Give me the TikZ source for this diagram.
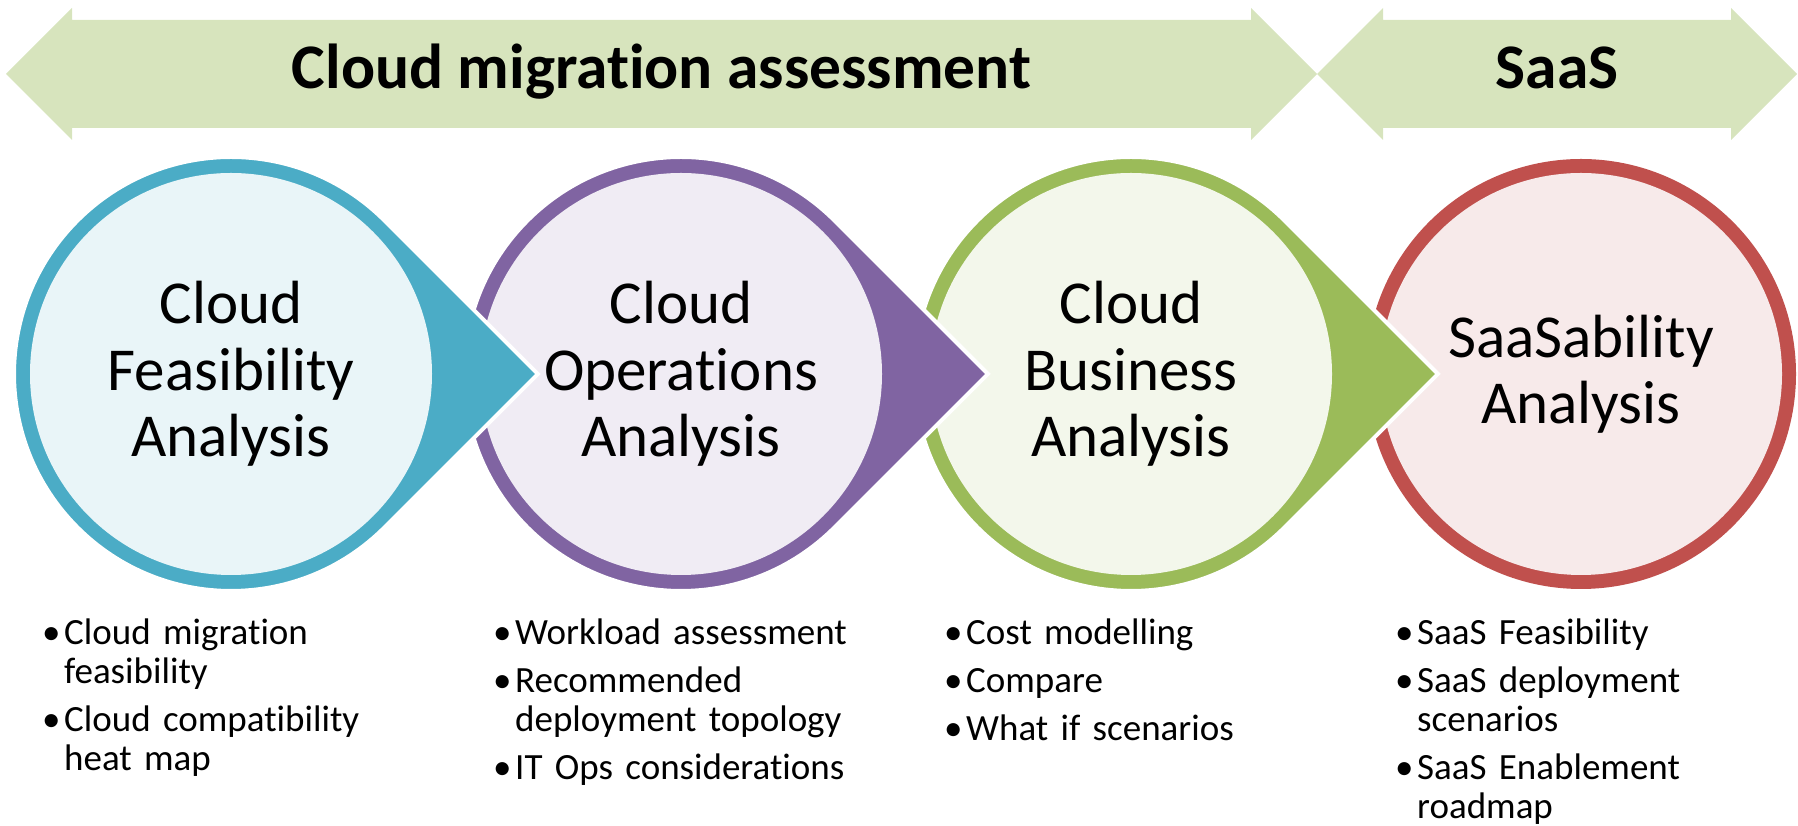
\documentclass[tikz,border=0pt]{standalone}
\usepackage{fontspec}
\setmainfont{Carlito}[Ligatures=NoCommon]
\usetikzlibrary{positioning}
\definecolor{bandgreen}{HTML}{D7E4BD}
\definecolor{fcblue}{HTML}{4BACC6}
\definecolor{fcpurple}{HTML}{8064A2}
\definecolor{fcgreen}{HTML}{9BBB59}
\definecolor{fcred}{HTML}{C0504D}
\newcommand{\bitem}{\par\hangindent=22pt\hangafter=1\makebox[22pt][l]{\textbullet}}

\begin{document}
\begin{tikzpicture}[x=1pt,y=1pt]
\tikzstyle{band}=[fill=bandgreen]
\tikzstyle{title}=[anchor=base, inner sep=0pt, font=\fontsize{63.5}{70}\selectfont\bfseries]
\tikzstyle{drop}=[draw=white, line width=4pt]
\tikzstyle{main}=[align=center, inner sep=0pt, font=\fontsize{61}{66.5}\selectfont]
\tikzstyle{list}=[anchor=base west, text width=380pt, align=left, inner sep=0pt, font=\fontsize{37}{39}\selectfont]
\useasboundingbox (0,0) rectangle (1798,826);
\coordinate (c1) at (231,452);
\coordinate (c2) at ([xshift=450pt]c1);
\coordinate (c3) at ([xshift=450pt]c2);
\coordinate (c4) at ([xshift=450pt]c3);

\fill[band] (6,752) -- (72,818) -- (72,806) -- (1251,806) -- (1251,818) -- (1317,752)
  -- (1251,686) -- (1251,698) -- (72,698) -- (72,686) -- cycle;
\fill[band] (1317,752) -- (1383,818) -- (1383,806) -- (1731,806) -- (1731,818) -- (1797,752)
  -- (1731,686) -- (1731,698) -- (1383,698) -- (1383,686) -- cycle;
\node[title] (a1) at (661.5,737) {Cloud migration assessment};
\node[title] (a2) at (1557,737) {SaaS};

\fill[fcred] (c4) circle[radius=215];
\fill[fcred!12] (c4) circle[radius=201];
\path[drop, fill=fcgreen] (c3) ++(0:306.9) -- ++(135:217) arc[start angle=45, end angle=315, radius=217] -- cycle;
\fill[fcgreen!12] (c3) circle[radius=201];
\path[drop, fill=fcpurple] (c2) ++(0:306.9) -- ++(135:217) arc[start angle=45, end angle=315, radius=217] -- cycle;
\fill[fcpurple!12] (c2) circle[radius=201];
\path[drop, fill=fcblue] (c1) ++(0:306.9) -- ++(135:217) arc[start angle=45, end angle=315, radius=217] -- cycle;
\fill[fcblue!12] (c1) circle[radius=201];

\node[main] (t1) at (c1) {Cloud\\Feasibility\\Analysis};
\node[main] (t2) at (c2) {Cloud\\Operations\\Analysis};
\node[main] (t3) at (c3) {Cloud\\Business\\Analysis};
\node[main] (t4) at (c4) {SaaSability\\Analysis};

\node[list] (b1) at (42,229) {\setlength{\parskip}{9pt}%
  \bitem Cloud migration\newline feasibility
  \bitem Cloud compatibility\newline heat map\par};
\node[list] (b2) at (493,229) {\setlength{\parskip}{9pt}%
  \bitem Workload assessment
  \bitem Recommended\newline deployment topology
  \bitem IT Ops considerations\par};
\node[list] (b3) at (944,229) {\setlength{\parskip}{9pt}%
  \bitem Cost modelling
  \bitem Compare
  \bitem What if scenarios\par};
\node[list] (b4) at (1395,229) {\setlength{\parskip}{9pt}%
  \bitem SaaS Feasibility
  \bitem SaaS deployment\newline scenarios
  \bitem SaaS Enablement\newline roadmap\par};
\end{tikzpicture}
\end{document}
